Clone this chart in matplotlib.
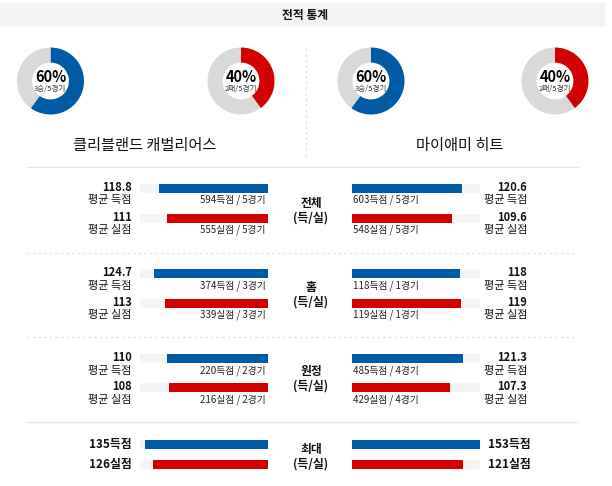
import matplotlib
matplotlib.use("Agg")
import matplotlib.pyplot as plt
from matplotlib.lines import Line2D

plt.rcParams['font.family'] = ['Noto Sans CJK KR', 'DejaVu Sans']

BLUE = '#005ba6'
RED = '#d20000'
RING_GRAY = '#d9d9d9'
TRACK = '#f4f4f4'

# ---------------- data ----------------
teams = ['클리블랜드 캐벌리어스', '마이애미 히트']
win_pct = [60, 60]
loss_pct = [40, 40]
win_labels = ['3승/5경기', '3승/5경기']
loss_labels = ['2패/5경기', '2패/5경기']

sections = ['전체', '홈', '원정']
home_avg_for = [118.8, 124.7, 110]
home_avg_against = [111, 113, 108]
home_for_txt = ['594득점 / 5경기', '374득점 / 3경기', '220득점 / 2경기']
home_against_txt = ['555실점 / 5경기', '339실점 / 3경기', '216실점 / 2경기']
away_avg_for = [120.6, 118, 121.3]
away_avg_against = [109.6, 119, 107.3]
away_for_txt = ['603득점 / 5경기', '118득점 / 1경기', '485득점 / 4경기']
away_against_txt = ['548실점 / 5경기', '119실점 / 1경기', '429실점 / 4경기']

max_label = '최대'
home_max = [135, 126]
away_max = [153, 121]
scale_max = 140

# ---------------- figure ----------------
W, H = 612, 486
fig = plt.figure(figsize=(W / 100, H / 100), dpi=100)
ax = fig.add_axes([0, 0, 1, 1])
ax.set_xlim(0, W)
ax.set_ylim(H, 0)
ax.axis('off')

def fax(x0, y0, w, h):
    return fig.add_axes([x0 / W, 1 - (y0 + h) / H, w / W, h / H])

# banner
ax.add_patch(plt.Rectangle((0, 3), 605, 24, color='#f4f4f4', lw=0))
ax.text(305, 15.5, '전적 통계', ha='center', va='center', fontsize=8.5,
        fontweight='bold', color='#111111')

# donuts
donut_cx = [50.5, 241, 371, 555]
donut_cy = 81
R = 33.5
donut_specs = [
    (win_pct[0], BLUE, win_labels[0]),
    (loss_pct[0], RED, loss_labels[0]),
    (win_pct[1], BLUE, win_labels[1]),
    (loss_pct[1], RED, loss_labels[1]),
]
for cx, (pct, col, lab) in zip(donut_cx, donut_specs):
    a = fax(cx - R, donut_cy - R, 2 * R, 2 * R)
    a.pie([pct, 100 - pct], colors=[col, RING_GRAY], startangle=90,
          counterclock=False, wedgeprops=dict(width=0.45, linewidth=0))
    a.set_aspect('equal')
    a.set_xlim(-1, 1)
    a.set_ylim(-1, 1)
    a.axis('off')
    ax.text(cx, donut_cy - 4, f'{pct}%', ha='center', va='center',
            fontsize=10.5, fontweight='bold', color='#000000')
    ax.text(cx, donut_cy + 7.5, lab, ha='center', va='center',
            fontsize=5.5, color='#333333')

# team names
ax.text(145, 145, teams[0], ha='center', va='center', fontsize=11, color='#111111')
ax.text(460, 145, teams[1], ha='center', va='center', fontsize=11, color='#111111')

# vertical dashed divider
ax.add_line(Line2D([306, 306], [48, 156], color='#e3e3e3', lw=1, ls=(0, (2, 2))))

# horizontal separators
ax.add_line(Line2D([27, 578], [167, 167], color='#e6e6e6', lw=1))
for yy in [253, 337]:
    ax.add_line(Line2D([27, 578], [yy, yy], color='#e6e6e6', lw=1, ls=(0, (2, 2))))
ax.add_line(Line2D([27, 578], [422, 422], color='#e6e6e6', lw=1))

# bar axes
LX0, LX1 = 140, 268
RX0, RX1 = 352, 480
axL = fax(LX0, 0, LX1 - LX0, H)
axR = fax(RX0, 0, RX1 - RX0, H)
axL.set_xlim(scale_max, 0)
axR.set_xlim(0, scale_max)
for a in (axL, axR):
    a.set_ylim(H, 0)
    a.axis('off')

BH = 9
sec_y = [(188, 218), (273.5, 303), (358.5, 387.5)]
sec_label_y = [(203, 218), (287, 302), (371, 386)]

for i, name in enumerate(sections):
    yf, ya = sec_y[i]
    for a in (axL, axR):
        a.barh([yf, ya], [scale_max, scale_max], height=BH, color=TRACK, lw=0)
    axL.barh(yf, home_avg_for[i], height=BH, color=BLUE, lw=0)
    axL.barh(ya, home_avg_against[i], height=BH, color=RED, lw=0)
    axR.barh(yf, away_avg_for[i], height=BH, color=BLUE, lw=0)
    axR.barh(ya, away_avg_against[i], height=BH, color=RED, lw=0)

    # left labels
    ax.text(132, yf - 1, f'{home_avg_for[i]:g}', ha='right', va='center',
            fontsize=8, fontweight='bold', color='#111111')
    ax.text(132, yf + 12, '평균 득점', ha='right', va='center', fontsize=8, color='#111111')
    ax.text(132, ya - 1, f'{home_avg_against[i]:g}', ha='right', va='center',
            fontsize=8, fontweight='bold', color='#111111')
    ax.text(132, ya + 12, '평균 실점', ha='right', va='center', fontsize=8, color='#111111')
    ax.text(266, yf + 12, home_for_txt[i], ha='right', va='center', fontsize=7, color='#222222')
    ax.text(266, ya + 12, home_against_txt[i], ha='right', va='center', fontsize=7, color='#222222')

    # right labels
    ax.text(527, yf - 1, f'{away_avg_for[i]:g}', ha='right', va='center',
            fontsize=8, fontweight='bold', color='#111111')
    ax.text(527, yf + 12, '평균 득점', ha='right', va='center', fontsize=8, color='#111111')
    ax.text(527, ya - 1, f'{away_avg_against[i]:g}', ha='right', va='center',
            fontsize=8, fontweight='bold', color='#111111')
    ax.text(527, ya + 12, '평균 실점', ha='right', va='center', fontsize=8, color='#111111')
    ax.text(353, yf + 12, away_for_txt[i], ha='left', va='center', fontsize=7, color='#222222')
    ax.text(353, ya + 12, away_against_txt[i], ha='left', va='center', fontsize=7, color='#222222')

    # center labels
    l1, l2 = sec_label_y[i]
    ax.text(311, l1, name, ha='center', va='center', fontsize=8.5,
            fontweight='bold', color='#111111')
    ax.text(311, l2, '(득/실)', ha='center', va='center', fontsize=8.5,
            fontweight='bold', color='#111111')

# max section
my_f, my_a = 444, 464
for a in (axL, axR):
    a.barh([my_f, my_a], [scale_max, scale_max], height=BH, color=TRACK, lw=0)
axL.barh(my_f, home_max[0], height=BH, color=BLUE, lw=0)
axL.barh(my_a, home_max[1], height=BH, color=RED, lw=0)
axR.barh(my_f, away_max[0], height=BH, color=BLUE, lw=0)
axR.barh(my_a, away_max[1], height=BH, color=RED, lw=0)
ax.text(132, my_f, f'{home_max[0]}득점', ha='right', va='center', fontsize=8.5,
        fontweight='bold', color='#111111')
ax.text(132, my_a, f'{home_max[1]}실점', ha='right', va='center', fontsize=8.5,
        fontweight='bold', color='#111111')
ax.text(488, my_f, f'{away_max[0]}득점', ha='left', va='center', fontsize=8.5,
        fontweight='bold', color='#111111')
ax.text(488, my_a, f'{away_max[1]}실점', ha='left', va='center', fontsize=8.5,
        fontweight='bold', color='#111111')
ax.text(311, 449, max_label, ha='center', va='center', fontsize=8.5,
        fontweight='bold', color='#111111')
ax.text(311, 464, '(득/실)', ha='center', va='center', fontsize=8.5,
        fontweight='bold', color='#111111')

fig.savefig('out.png', dpi=100)
